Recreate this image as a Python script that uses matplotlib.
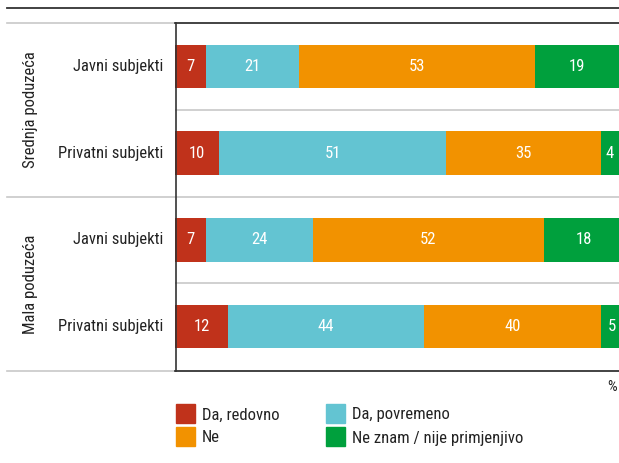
import matplotlib
matplotlib.use("Agg")
import matplotlib.pyplot as plt
from matplotlib.patches import Rectangle
from matplotlib.lines import Line2D

plt.rcParams['font.family'] = ['Roboto Condensed', 'DejaVu Sans']

groups = ["Srednja poduzeća", "Mala poduzeća"]
rows = ["Javni subjekti", "Privatni subjekti", "Javni subjekti", "Privatni subjekti"]
series = ["Da, redovno", "Da, povremeno", "Ne", "Ne znam / nije primjenjivo"]
da_redovno = [7, 10, 7, 12]
da_povremeno = [21, 51, 24, 44]
ne = [53, 35, 52, 40]
ne_znam = [19, 4, 18, 5]
colors = ["#C0321B", "#63C4D2", "#F29200", "#00A03D"]

W, H = 619, 463
fig = plt.figure(figsize=(W/100, H/100), dpi=100)
x0, x1, ytop, ybot = 175, 619, 23, 370
ax = fig.add_axes([x0/W, 1-ybot/H, (x1-x0)/W, (ybot-ytop)/H])
ax.set_xlim(0, 100)
ax.set_ylim(4, 0)

data = [da_redovno, da_povremeno, ne, ne_znam]
left = [0]*len(rows)
ypos = [i + 0.5 for i in range(len(rows))]
for vals, c in zip(data, colors):
    ax.barh(ypos, vals, left=left, height=0.5, color=c, edgecolor='none')
    for y, l, v in zip(ypos, left, vals):
        ax.text(l + v/2, y, str(v), ha='center', va='center', color='white', fontsize=12)
    left = [a + b for a, b in zip(left, vals)]

for s in ['top', 'right', 'bottom', 'left']:
    ax.spines[s].set_visible(False)
ax.set_xticks([])
ax.set_yticks([])

for y in [1, 3]:
    ax.axhline(y, color='#c8c8c8', lw=1.2, zorder=0)

def hline(ypix, xa, xb, color, lw):
    fig.add_artist(Line2D([xa/W, xb/W], [1-ypix/H, 1-ypix/H], color=color, lw=lw))

hline(7.5, 7, 619, '#333333', 1.3)
hline(23, 7, 175, '#c8c8c8', 1.2)
hline(23, 175, 619, '#222222', 1.2)
hline(196.5, 7, 619, '#c8c8c8', 1.2)
hline(370.5, 7, 175, '#c8c8c8', 1.2)
hline(370.5, 175, 619, '#222222', 1.2)
fig.add_artist(Line2D([175.5/W, 175.5/W], [1-23/H, 1-370.5/H], color='#333333', lw=1.2))

for y, lab in zip(ypos, rows):
    ax.text(-12/444*100, y, lab, ha='right', va='center', fontsize=12, color='#222222')

for gi, g in enumerate(groups):
    fig.text(30/W, 1-(110+gi*174)/H, g, rotation=90, ha='center', va='center', fontsize=12, color='#222222')

fig.text(612/W, 1-387/H, "%", ha='center', va='center', fontsize=11, color='#222222')

leg_pos = [(176, 404), (326, 404), (176, 427), (326, 427)]
for (lx, ly), i in zip(leg_pos, range(4)):
    fig.add_artist(Rectangle((lx/W, 1-(ly+19)/H), 19/W, 19/H, color=colors[i], transform=fig.transFigure))
    fig.text((lx+26)/W, 1-(ly+11)/H, series[i], ha='left', va='center', fontsize=12, color='#222222')

fig.savefig("out.png", dpi=100)
